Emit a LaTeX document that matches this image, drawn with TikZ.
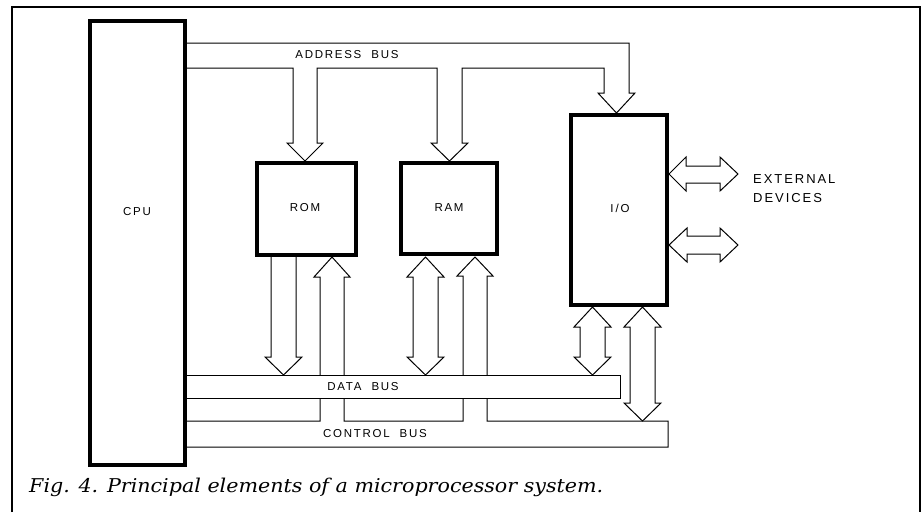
\documentclass[tikz,border=0pt]{standalone}
\usepackage{fontspec}
\setmainfont{Liberation Serif}
\newfontfamily\lblfont[LetterSpace=15]{Liberation Sans}
\newfontfamily\capfont{DejaVu Serif}
\begin{document}
\begin{tikzpicture}[x=1pt,y=-1pt,
  thinl/.style={draw=black, line width=1pt, line join=miter},
  unit/.style={draw=black, line width=4pt, fill=white, inner sep=0pt, outer sep=0pt},
  lbl/.style={font=\lblfont\fontsize{11.5}{13}\selectfont, inner sep=0pt},
  extl/.style={font=\lblfont\fontsize{13}{19}\selectfont, inner sep=0pt, align=left},
  bus/.style={draw=black, line width=1pt, fill=white, inner sep=0pt, outer sep=0pt}]
\useasboundingbox[fill=white] (0,0) rectangle (922,512);
% frame
\draw[line width=1.2pt] (12,512) -- (12,7) -- (920,7) -- (920,512);

% address bus with branches
\draw[thinl] (185,43) -- (629,43) -- (629,93) -- (635,93) -- (616.5,113) -- (598,93) -- (604,93) -- (604,68)
  -- (462,68) -- (462,143) -- (468,143) -- (449.5,161) -- (431,143) -- (437,143) -- (437,68)
  -- (317,68) -- (317,143) -- (323,143) -- (305,161) -- (287,143) -- (293,143) -- (293,68) -- (185,68);
\node[lbl] (addr) at (347,55) {ADDRESS\hspace{10pt}BUS};

% control bus with up branches
\draw[thinl] (185,421) -- (320,421) -- (320,277) -- (314,277) -- (332,257) -- (350,277) -- (344,277) -- (344,421)
  -- (463,421) -- (463,276) -- (457,276) -- (475,257) -- (493,276) -- (487,276) -- (487,421)
  -- (668,421) -- (668,447) -- (185,447);
\node[lbl] (ctrl) at (375,434) {CONTROL\hspace{10pt}BUS};

% data bus
\node[bus, minimum width=435pt, minimum height=23pt] (data) at (402.5,386.5) {};
\node[lbl] (datal) at (363,387) {DATA\hspace{10pt}BUS};

% ROM -> data bus
\draw[thinl] (271,257) -- (271,357) -- (265,357) -- (283.5,375) -- (302,357) -- (296,357) -- (296,257);
% RAM <-> data bus
\draw[thinl] (425.5,257) -- (444,277) -- (438,277) -- (438,357) -- (444,357) -- (425.5,375) -- (407,357) -- (413,357) -- (413,277) -- (407,277) -- cycle;
% I/O <-> data bus
\draw[thinl] (592.5,307) -- (611,327) -- (605,327) -- (605,357) -- (611,357) -- (592.5,375) -- (574,357) -- (580,357) -- (580,327) -- (574,327) -- cycle;
% I/O <-> control bus
\draw[thinl] (642.5,307) -- (661,327) -- (655,327) -- (655,403) -- (661,403) -- (642.5,421) -- (624,403) -- (630,403) -- (630,327) -- (624,327) -- cycle;
% external arrows
\draw[thinl] (669,174) -- (686,157) -- (686,166) -- (720,166) -- (720,157) -- (738,174) -- (720,191) -- (720,183) -- (686,183) -- (686,191) -- cycle;
\draw[thinl] (669,245) -- (687,228) -- (687,236) -- (720,236) -- (720,228) -- (738,245) -- (720,262) -- (720,254) -- (687,254) -- (687,262) -- cycle;
\node[extl, anchor=base west] (ext) at (753,202) {EXTERNAL\\DEVICES};

% units
\node[unit, minimum width=95pt, minimum height=444pt] (cpu) at (137.5,243) {};
\node[lbl] (cpul) at (137,212) {CPU};
\node[unit, minimum width=99pt, minimum height=92pt] (rom) at (306.5,209) {};
\node[lbl] (roml) at (305,208) {ROM};
\node[unit, minimum width=96pt, minimum height=91pt] (ram) at (449,208.5) {};
\node[lbl] (raml) at (449,208) {RAM};
\node[unit, minimum width=96pt, minimum height=190pt] (io) at (619,210) {};
\node[lbl] (iol) at (620,208) {I\,/\,O};

% caption
\node[anchor=base west, inner sep=0pt] (cap) at (29,492) {\resizebox{574pt}{\height}{\capfont\itshape\fontsize{19}{22}\selectfont Fig. 4. Principal elements of a microprocessor system.}};
\end{tikzpicture}
\end{document}
